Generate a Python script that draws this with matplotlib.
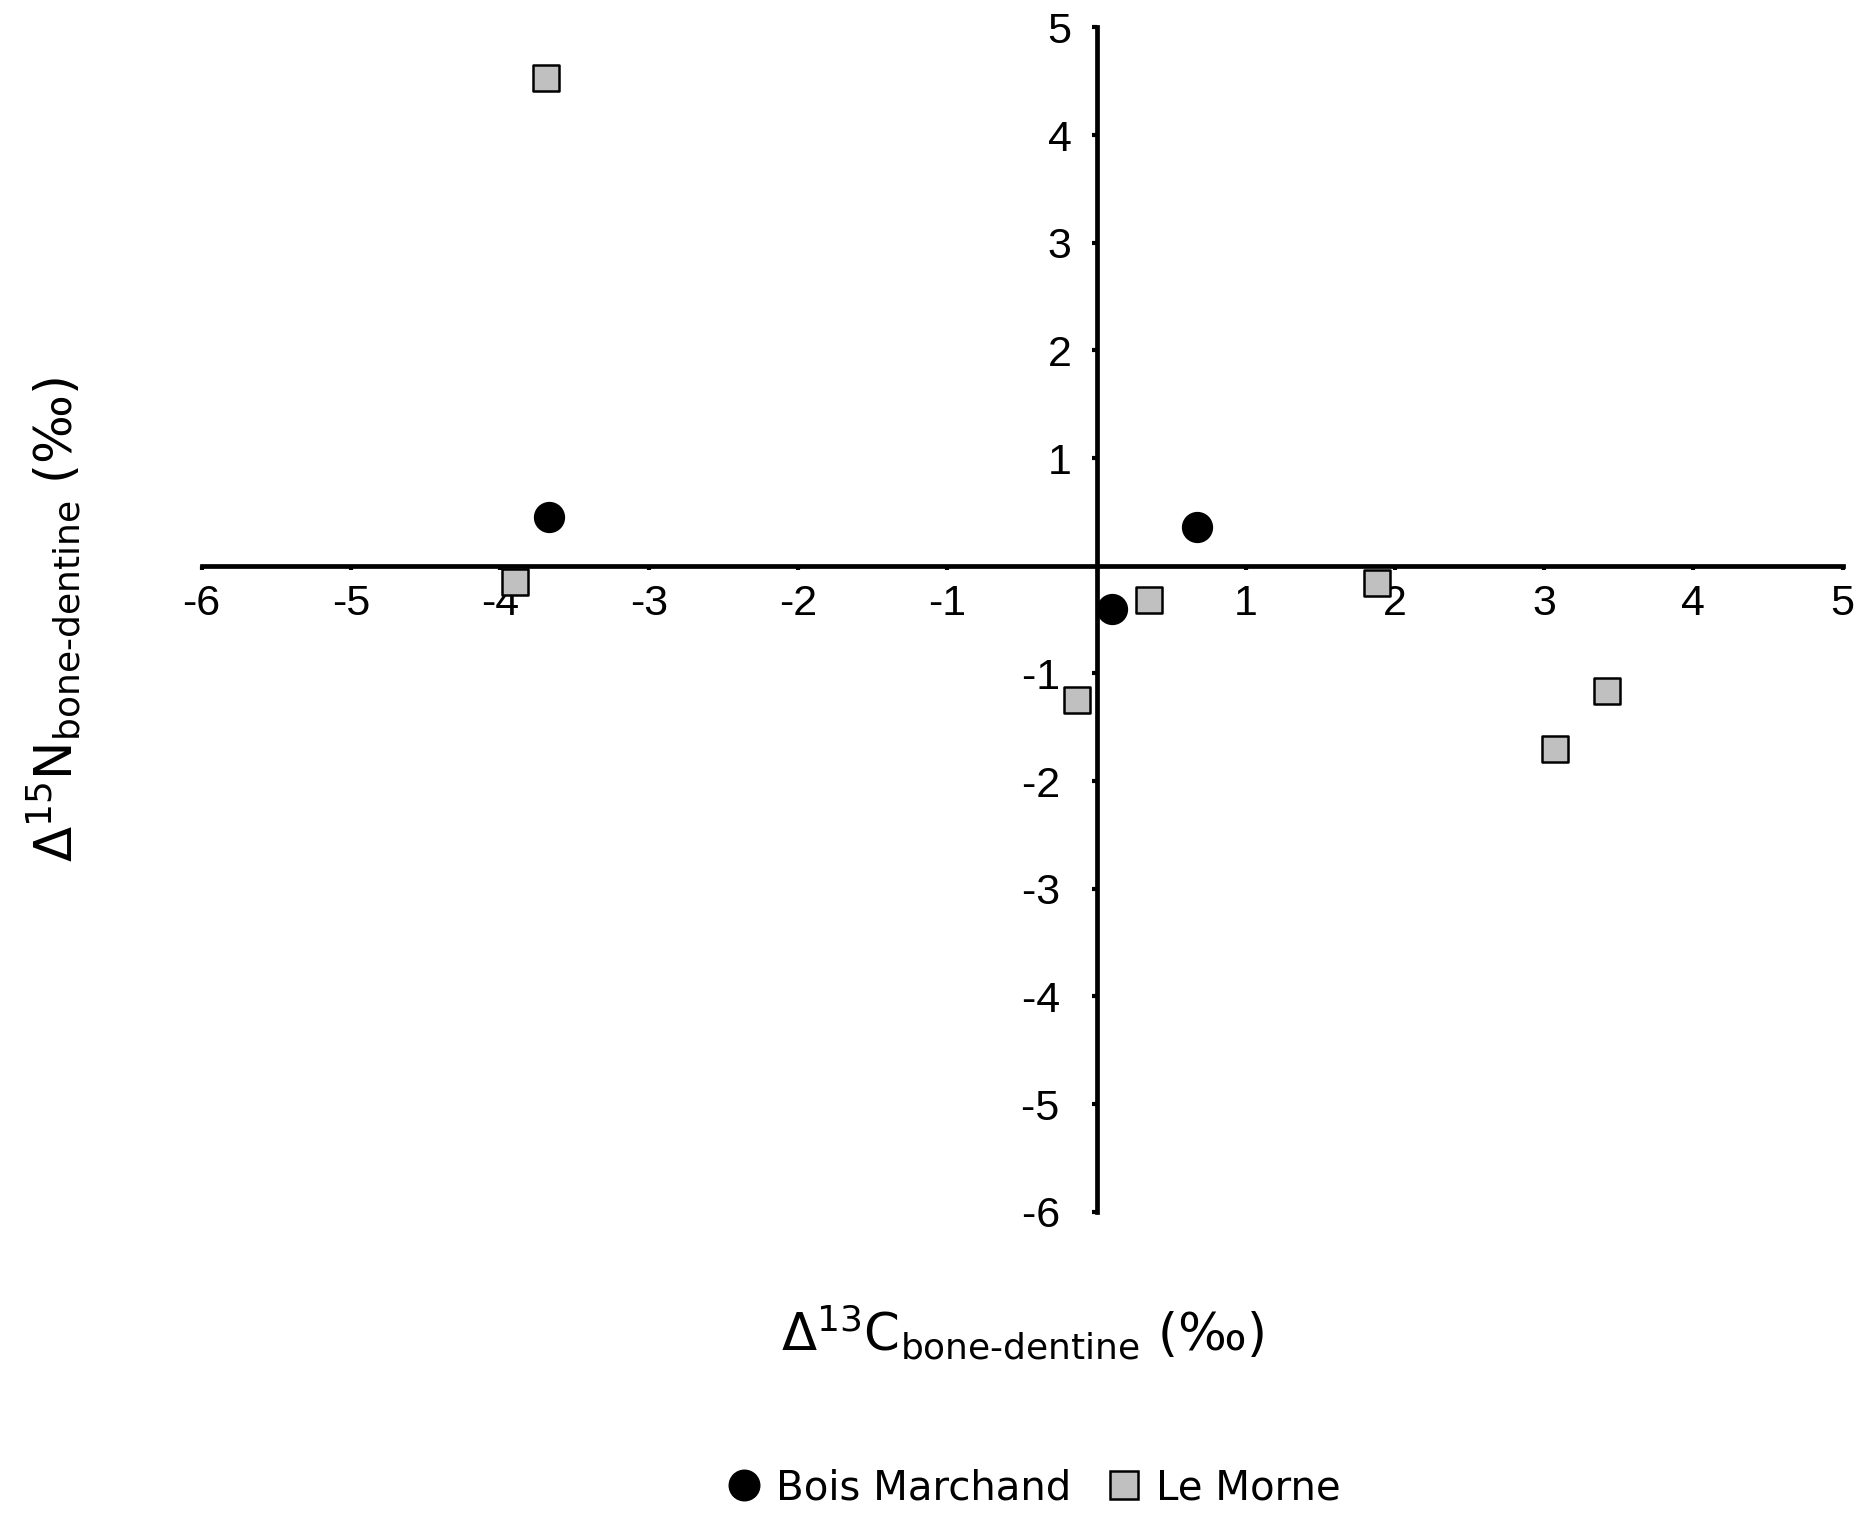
import numpy as np
import matplotlib
matplotlib.use('Agg')
import matplotlib.pyplot as plt
from matplotlib.lines import Line2D

# Bois Marchand (circles)
bm_x = [-3.67, 0.10, 0.67]
bm_y = [0.45, -0.40, 0.36]

# Le Morne (squares)
lm_x = [-3.69, -3.90, 0.35, -0.13, 1.88, 3.07, 3.42]
lm_y = [4.53, -0.15, -0.32, -1.25, -0.16, -1.70, -1.16]

x_ticks = [-6, -5, -4, -3, -2, -1, 1, 2, 3, 4, 5]
y_ticks = [-6, -5, -4, -3, -2, -1, 1, 2, 3, 4, 5]

fig = plt.figure(figsize=(18.7, 15.19), dpi=100)
ax = fig.add_axes([0.1078, 0.2023, 0.8775, 0.7797])

ax.scatter(bm_x, bm_y, s=21.5**2, marker='o', color='black', zorder=3, clip_on=False)
ax.scatter(lm_x, lm_y, s=19**2, marker='s', facecolor='#c0c0c0', edgecolor='black',
           linewidth=1.8, zorder=3, clip_on=False)

ax.set_xlim(-6, 5)
ax.set_ylim(-6, 5)

ax.spines['left'].set_position('zero')
ax.spines['bottom'].set_position('zero')
ax.spines['right'].set_visible(False)
ax.spines['top'].set_visible(False)
for s in ['left', 'bottom']:
    ax.spines[s].set_linewidth(3.4)

ax.set_xticks(x_ticks)
ax.set_yticks(y_ticks)
ax.set_xticklabels([str(v) for v in x_ticks])
# negative labels on the y axis sit a bit further left in the original
ax.set_yticklabels([str(v) + ' ' if v < 0 else str(v) for v in y_ticks])
ax.tick_params(axis='x', direction='out', length=3, width=3, pad=10)
ax.tick_params(axis='y', direction='out', length=3.5, width=3, pad=14.5)
for lbl in ax.get_xticklabels() + ax.get_yticklabels():
    lbl.set_fontfamily('Liberation Sans')
    lbl.set_fontsize(31)

fig.text(1022 / 1870, 1 - 1332 / 1519,
         r'$\Delta^{13}$C$_{\text{bone-dentine}}$ (‰)',
         ha='center', va='center', fontsize=37, family='DejaVu Sans')
fig.text(54 / 1870, 1 - 619 / 1519,
         r'$\Delta^{15}$N$_{\text{bone-dentine}}$ (‰)',
         ha='center', va='center', fontsize=37, rotation=90, family='DejaVu Sans')

handles = [
    Line2D([], [], linestyle='none', marker='o', markersize=22, color='black'),
    Line2D([], [], linestyle='none', marker='s', markersize=20, markerfacecolor='#c0c0c0',
           markeredgecolor='black', markeredgewidth=1.8),
]
fig.legend(handles, ['Bois Marchand', 'Le Morne'], loc='center', ncol=2, frameon=False,
           bbox_to_anchor=(0.552, 0.0204), prop={'family': 'DejaVu Sans', 'size': 29},
           handletextpad=0.3, columnspacing=0.8, handlelength=1.0)

fig.savefig('out.png', dpi=100)
